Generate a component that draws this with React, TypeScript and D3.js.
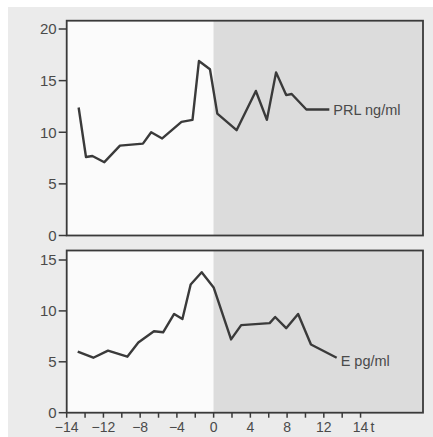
import * as d3 from "d3";

// time (t) and PRL ng/ml, top panel
const prlT = [-14.7, -13.9, -13.2, -11.9, -10.2, -7.7, -6.8, -5.6, -3.5, -2.3, -1.6, -0.4, 0.4, 2.5, 4.6, 5.8, 6.8, 7.9, 8.5, 10.1, 12.6];
const prlV = [12.4, 7.6, 7.7, 7.1, 8.7, 8.9, 10.0, 9.4, 11.0, 11.2, 16.9, 16.1, 11.8, 10.2, 14.0, 11.2, 15.8, 13.6, 13.7, 12.2, 12.2];

// time (t) and E pg/ml, bottom panel
const eT = [-14.8, -13.1, -11.5, -9.4, -8.2, -6.5, -5.5, -4.3, -3.4, -2.5, -1.3, 0.0, 1.9, 3.0, 6.1, 6.7, 7.9, 9.2, 10.6, 13.4];
const eV = [6.0, 5.4, 6.1, 5.5, 6.9, 8.0, 7.9, 9.7, 9.2, 12.6, 13.8, 12.3, 7.2, 8.6, 8.8, 9.4, 8.3, 9.7, 6.7, 5.4];

const prlTicks = [0, 5, 10, 15, 20];
const eTicks = [0, 5, 10, 15];
const xTicks = d3.range(-16, 16.1, 2);
const xLabelAt = [-16, -12, -8, -4, 0, 4, 8, 12, 16];
const xLabelText = ["\u221214", "\u221212", "\u22128", "\u22124", "0", "4", "8", "12", "14"];

const W = 433;
const H = 437;
const left = 66.7;
const right = 423;
const ink = "#3a3a3a";
const txt = "#4a4a4a";

const x = d3.scaleLinear().domain([-16, 22.8]).range([left, right]);

function Panel({ ts, vs, ticks, y, top, label, labelDy }: any) {
  const line = d3.line<number>().x((_, i) => x(ts[i])).y((d) => y(d));
  const bottom = y(0);
  const last = vs.length - 1;
  return (
    <g>
      <rect x={left} y={top} width={x(0) - left} height={bottom - top} fill="#fbfbfb" />
      <rect x={x(0)} y={top} width={right - x(0)} height={bottom - top} fill="#dcdcdc" />
      <rect x={left} y={top} width={right - left} height={bottom - top} fill="none" stroke={ink} strokeWidth={1.8} />
      {ticks.map((t: number) => (
        <g key={t}>
          <line x1={left - 8} x2={left} y1={y(t)} y2={y(t)} stroke={ink} strokeWidth={1.5} />
          <text x={left - 10} y={y(t)} dy="0.35em" textAnchor="end" fontSize={15} fill={txt}>{t}</text>
        </g>
      ))}
      <path d={line(vs) || ""} fill="none" stroke={ink} strokeWidth={2.4} strokeLinejoin="round" />
      <text x={x(ts[last]) + 4} y={y(vs[last])} dy={labelDy} fontSize={14.5} fill={txt}>{label}</text>
    </g>
  );
}

export default function App() {
  const yTop = d3.scaleLinear().domain([0, 20]).range([235.5, 29]);
  const yBot = d3.scaleLinear().domain([0, 15]).range([412.7, 260]);
  const axisY = yBot(0);
  return (
    <svg width={W} height={H} style={{ position: "absolute", left: 0, top: 0 }} fontFamily="'Liberation Sans', Arial, sans-serif">
      <rect x={0} y={0} width={W} height={H} fill="#ffffff" />
      <rect x={8} y={7} width={W - 8} height={H - 7} fill="#ebebeb" />
      <Panel ts={prlT} vs={prlV} ticks={prlTicks} y={yTop} top={20.7} label="PRL ng/ml" labelDy="0.35em" />
      <Panel ts={eT} vs={eV} ticks={eTicks} y={yBot} top={250.5} label="E pg/ml" labelDy="0.6em" />
      {xTicks.map((t) => (
        <line key={t} x1={x(t)} x2={x(t)} y1={axisY} y2={axisY + 5} stroke={ink} strokeWidth={1.5} />
      ))}
      {xLabelAt.map((t, i) => (
        <text key={t} x={x(t)} y={axisY + 19} textAnchor="middle" fontSize={14} fill={txt}>{xLabelText[i]}</text>
      ))}
      <text x={x(16) + 10} y={axisY + 19} fontSize={14} fill={txt}>t</text>
    </svg>
  );
}
